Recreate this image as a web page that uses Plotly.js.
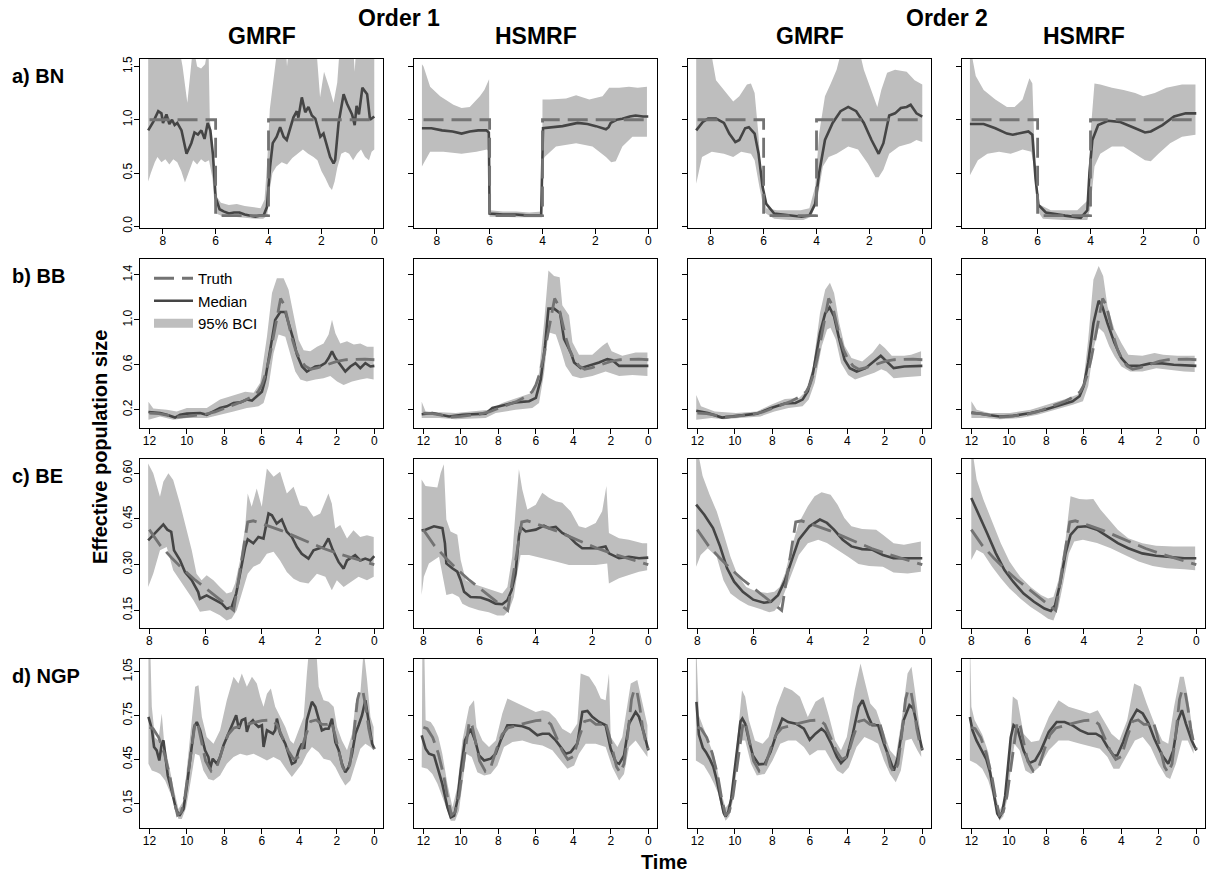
<!DOCTYPE html>
<html><head><meta charset="utf-8">
<script src="https://cdn.plot.ly/plotly-3.0.1.min.js"></script>
<style>html,body{margin:0;padding:0;background:#fff}#chart{width:1210px;height:872px}</style>
</head><body><div id="chart"></div>
<script>
// ---------- labels ----------
const ROW_LABELS = ['a) BN','b) BB','c) BE','d) NGP'];
const COL_LABELS = ['GMRF','HSMRF','GMRF','HSMRF'];
const GROUP_LABELS = ['Order 1','Order 2'];
const Y_TITLE = 'Effective population size';
const X_TITLE = 'Time';
const LEGEND_NAMES = ['Truth','Median','95% BCI'];

// ---------- truths [time, Ne] ----------
const bnTruth = [[8.5,1],[6,1],[6,0.1],[4,0.1],[4,1],[0,1]];
const bbTruth = [[12,0.17],[11.5,0.165],[11,0.15],[10.5,0.135],[10,0.14],[9.5,0.15],[9,0.16],[8.5,0.18],[8,0.21],[7.5,0.24],[7,0.275],[6.5,0.32],[6.2,0.36],[6.0,0.42],[5.8,0.52],[5.6,0.66],[5.4,0.84],[5.2,1.04],[5.0,1.19],[4.8,1.13],[4.6,0.98],[4.4,0.84],[4.2,0.73],[4.0,0.66],[3.7,0.59],[3.4,0.56],[3.0,0.575],[2.5,0.605],[2.0,0.63],[1.5,0.645],[1.0,0.65],[0.5,0.65],[0,0.645]];
const beTruth = [[8.0,0.415],[7.6,0.362],[7.2,0.322],[6.8,0.285],[6.4,0.252],[6.0,0.223],[5.6,0.196],[5.2,0.167],[5.0,0.15],[4.5,0.44],[4.3,0.444],[3.8,0.428],[3.3,0.412],[2.8,0.392],[2.3,0.372],[1.8,0.353],[1.3,0.337],[0.8,0.322],[0.4,0.31],[0,0.30]];
const ngpTruth = [[12.0,0.67],[11.8,0.66],[11.5,0.6],[11.2,0.49],[10.9,0.33],[10.7,0.18],[10.5,0.07],[10.3,0.09],[10.1,0.2],[9.9,0.4],[9.7,0.6],[9.55,0.71],[9.4,0.68],[9.2,0.56],[9.0,0.44],[8.7,0.37],[8.4,0.40],[8.1,0.52],[7.8,0.62],[7.5,0.665],[7.0,0.685],[6.5,0.7],[6.0,0.715],[5.5,0.72],[5.2,0.69],[4.9,0.60],[4.6,0.51],[4.3,0.45],[4.0,0.47],[3.7,0.6],[3.4,0.71],[3.1,0.72],[2.8,0.69],[2.5,0.69],[2.3,0.71],[2.1,0.62],[1.9,0.5],[1.7,0.4],[1.5,0.36],[1.3,0.42],[1.1,0.62],[0.9,0.86],[0.75,0.93],[0.6,0.91],[0.45,0.8],[0.3,0.66],[0.15,0.57],[0,0.52]];

// ---------- BN ----------
const bnO1G_med = [[8.55,0.90],[8.36,0.98],[8.17,1.08],[8.05,1.06],[7.99,0.97],[7.86,1.05],[7.75,0.96],[7.65,1.0],[7.55,0.95],[7.45,0.97],[7.29,0.90],[7.1,0.68],[6.92,0.78],[6.8,0.88],[6.67,0.86],[6.54,0.90],[6.42,0.82],[6.3,0.97],[6.2,0.90],[6.1,0.67],[6.0,0.27],[5.85,0.16],[5.7,0.14],[5.5,0.12],[5.3,0.13],[5.1,0.13],[4.9,0.11],[4.7,0.10],[4.5,0.09],[4.35,0.10],[4.19,0.10],[4.06,0.18],[3.94,0.56],[3.84,0.78],[3.69,0.84],[3.56,0.93],[3.43,0.84],[3.31,0.81],[3.18,0.93],[3.06,1.02],[2.93,1.08],[2.87,1.02],[2.74,1.21],[2.61,1.07],[2.49,1.12],[2.36,1.04],[2.23,1.01],[2.04,0.84],[1.92,0.87],[1.79,0.75],[1.67,0.65],[1.54,0.59],[1.48,0.62],[1.35,0.97],[1.16,1.24],[1.03,1.15],[0.91,1.08],[0.84,1.05],[0.74,0.95],[0.67,1.13],[0.58,1.05],[0.45,1.30],[0.27,1.24],[0.16,1.0],[0.0,1.03]];
const bnO1G_up = [[8.55,1.7],[7.4,1.7],[7.25,1.5],[7.07,1.16],[6.95,1.45],[6.85,1.7],[6.7,1.5],[6.55,1.48],[6.4,1.52],[6.3,1.7],[6.27,1.7],[6.22,1.0],[6.1,0.75],[6.02,0.3],[5.8,0.22],[5.5,0.20],[5.2,0.21],[4.9,0.19],[4.6,0.18],[4.3,0.17],[4.15,0.25],[4.05,0.6],[3.95,1.1],[3.85,1.3],[3.75,1.55],[3.65,1.7],[3.35,1.7],[3.3,1.5],[3.22,1.7],[2.2,1.7],[2.05,1.21],[1.9,1.45],[1.7,1.3],[1.54,1.16],[1.4,1.35],[1.3,1.7],[0.8,1.7],[0.74,1.45],[0.68,1.7],[0.0,1.7]];
const bnO1G_lo = [[8.55,0.42],[8.45,0.5],[8.3,0.6],[8.2,0.65],[8.05,0.6],[7.9,0.63],[7.75,0.58],[7.6,0.63],[7.45,0.6],[7.3,0.52],[7.16,0.41],[7.0,0.52],[6.85,0.62],[6.7,0.58],[6.55,0.63],[6.4,0.6],[6.25,0.62],[6.12,0.45],[6.04,0.2],[5.98,0.12],[5.7,0.09],[5.3,0.09],[4.9,0.08],[4.5,0.07],[4.2,0.07],[4.05,0.1],[3.95,0.35],[3.85,0.5],[3.7,0.56],[3.5,0.6],[3.3,0.58],[3.1,0.64],[2.9,0.68],[2.7,0.72],[2.5,0.68],[2.3,0.65],[2.15,0.62],[2.0,0.52],[1.85,0.45],[1.7,0.37],[1.6,0.34],[1.5,0.42],[1.4,0.55],[1.25,0.68],[1.1,0.7],[0.95,0.68],[0.8,0.62],[0.65,0.68],[0.5,0.72],[0.35,0.65],[0.2,0.62],[0.1,0.7],[0.0,0.72]];

const bnO1H_med = [[8.56,0.92],[8.2,0.92],[7.8,0.9],[7.4,0.89],[7.06,0.87],[6.75,0.89],[6.43,0.90],[6.12,0.90],[6.03,0.88],[6.0,0.12],[5.5,0.11],[5.0,0.11],[4.5,0.10],[4.05,0.10],[3.98,0.92],[3.6,0.93],[3.24,0.94],[2.67,0.97],[2.3,0.96],[1.98,0.94],[1.6,0.91],[1.5,0.93],[1.42,0.97],[1.2,1.0],[0.98,1.01],[0.7,1.03],[0.48,1.04],[0.2,1.03],[0.0,1.03]];
const bnO1H_up = [[8.56,1.52],[8.5,1.50],[8.25,1.31],[7.87,1.22],[7.37,1.14],[7.06,1.11],[6.75,1.12],[6.5,1.18],[6.37,1.22],[6.2,1.28],[6.08,1.36],[6.02,1.38],[6.0,0.15],[5.5,0.14],[5.0,0.14],[4.5,0.13],[4.02,0.14],[4.0,1.19],[3.74,1.19],[3.11,1.20],[2.73,1.23],[2.23,1.19],[1.73,1.22],[1.48,1.30],[1.1,1.30],[0.73,1.31],[0.4,1.3],[0.05,1.31]];
const bnO1H_lo = [[8.56,0.56],[8.5,0.59],[8.25,0.70],[7.75,0.70],[7.06,0.68],[6.5,0.70],[6.1,0.72],[6.02,0.70],[6.0,0.09],[5.0,0.085],[4.02,0.085],[4.0,0.6],[3.92,0.65],[3.49,0.75],[2.73,0.78],[2.11,0.75],[1.6,0.65],[1.4,0.6],[1.23,0.61],[0.98,0.75],[0.6,0.84],[0.05,0.84]];

const bnO2G_med = [[8.55,0.90],[8.3,0.98],[8.1,1.01],[7.8,1.01],[7.5,0.97],[7.3,0.87],[7.07,0.79],[6.92,0.81],[6.7,0.92],[6.56,0.93],[6.34,0.87],[6.19,0.68],[6.04,0.37],[5.9,0.21],[5.6,0.12],[5.0,0.10],[4.57,0.09],[4.27,0.10],[4.05,0.21],[3.9,0.50],[3.68,0.81],[3.39,0.97],[3.09,1.08],[2.8,1.12],[2.5,1.08],[2.21,0.97],[1.92,0.81],[1.65,0.68],[1.47,0.78],[1.25,1.04],[1.03,1.06],[0.81,1.11],[0.59,1.12],[0.44,1.14],[0.22,1.06],[0.0,1.03]];
const bnO2G_up = [[8.55,1.7],[8.0,1.65],[7.8,1.37],[7.5,1.28],[7.15,1.17],[6.92,1.22],[6.63,1.33],[6.48,1.34],[6.34,1.25],[6.2,0.87],[6.04,0.31],[5.9,0.17],[5.5,0.15],[5.0,0.15],[4.6,0.15],[4.27,0.17],[4.05,0.37],[3.9,0.87],[3.68,1.22],[3.46,1.34],[3.24,1.47],[3.0,1.7],[2.43,1.7],[2.21,1.47],[1.92,1.28],[1.7,1.12],[1.55,1.28],[1.33,1.44],[1.03,1.47],[0.59,1.45],[0.29,1.37],[0.07,1.34],[0.0,1.33]];
const bnO2G_lo = [[8.55,0.40],[8.33,0.65],[7.96,0.70],[7.5,0.68],[7.15,0.65],[6.85,0.70],[6.48,0.68],[6.34,0.62],[6.16,0.37],[5.97,0.13],[5.6,0.07],[5.0,0.06],[4.5,0.06],[4.2,0.09],[3.98,0.24],[3.76,0.56],[3.54,0.65],[3.24,0.68],[2.8,0.75],[2.43,0.72],[2.06,0.59],[1.77,0.46],[1.65,0.46],[1.47,0.53],[1.25,0.68],[0.88,0.75],[0.44,0.78],[0.22,0.81],[0.0,0.79]];

const bnO2H_med = [[8.56,0.96],[8.04,0.96],[7.6,0.92],[7.16,0.87],[6.94,0.86],[6.57,0.88],[6.35,0.89],[6.2,0.86],[6.08,0.45],[5.97,0.20],[5.69,0.13],[4.96,0.10],[4.37,0.08],[4.12,0.15],[4.04,0.50],[3.93,0.81],[3.71,0.95],[3.34,0.99],[2.9,0.98],[2.31,0.92],[1.94,0.88],[1.72,0.89],[1.28,0.95],[0.84,1.03],[0.4,1.06],[0.0,1.06]];
const bnO2H_up = [[8.56,1.7],[8.45,1.55],[8.34,1.41],[8.04,1.28],[7.6,1.19],[7.16,1.12],[6.87,1.12],[6.57,1.19],[6.43,1.30],[6.31,1.39],[6.2,1.34],[6.1,0.6],[5.97,0.21],[5.5,0.15],[4.5,0.15],[4.12,0.24],[4.0,0.87],[3.85,1.34],[3.63,1.33],[3.19,1.30],[2.75,1.28],[2.31,1.25],[2.01,1.22],[1.57,1.25],[1.13,1.30],[0.54,1.33],[0.03,1.33]];
const bnO2H_lo = [[8.56,0.48],[8.26,0.62],[7.9,0.68],[7.46,0.70],[7.02,0.68],[6.57,0.72],[6.24,0.70],[6.1,0.5],[6.02,0.15],[5.8,0.07],[5.0,0.06],[4.12,0.06],[4.0,0.18],[3.85,0.56],[3.63,0.68],[3.19,0.75],[2.75,0.75],[2.31,0.68],[1.94,0.62],[1.72,0.61],[1.43,0.68],[0.99,0.78],[0.54,0.84],[0.03,0.86]];

// ---------- BB ----------
const bbO1G_med = [[12.05,0.18],[11.43,0.17],[11.07,0.155],[10.63,0.13],[10.36,0.155],[10.0,0.165],[9.29,0.17],[8.94,0.155],[8.58,0.185],[8.23,0.215],[7.87,0.23],[7.51,0.26],[7.16,0.265],[6.8,0.29],[6.53,0.28],[6.27,0.32],[6.0,0.36],[5.82,0.47],[5.55,0.73],[5.29,1.0],[5.02,1.07],[4.75,1.07],[4.52,0.94],[4.31,0.82],[4.13,0.69],[3.86,0.585],[3.6,0.54],[3.33,0.57],[3.15,0.585],[2.88,0.59],[2.62,0.615],[2.44,0.66],[2.26,0.72],[2.08,0.66],[1.82,0.60],[1.55,0.54],[1.28,0.585],[1.01,0.615],[0.75,0.57],[0.48,0.615],[0.21,0.585],[0.0,0.59]];
const bbO1G_up = [[12.05,0.27],[11.79,0.21],[11.07,0.20],[10.54,0.185],[10.0,0.215],[8.94,0.215],[8.23,0.29],[7.51,0.33],[6.89,0.36],[6.44,0.35],[6.09,0.44],[5.73,0.85],[5.46,1.24],[5.2,1.37],[4.84,1.37],[4.58,1.27],[4.31,1.03],[4.04,0.82],[3.77,0.73],[3.42,0.72],[3.06,0.76],[2.71,0.79],[2.44,0.87],[2.26,1.0],[2.08,0.88],[1.82,0.79],[1.46,0.81],[1.1,0.78],[0.75,0.79],[0.39,0.76],[0.04,0.76]];
const bbO1G_lo = [[12.05,0.11],[11.43,0.14],[10.72,0.11],[10.0,0.125],[8.94,0.125],[8.23,0.155],[7.51,0.185],[6.8,0.215],[6.18,0.23],[5.91,0.26],[5.64,0.41],[5.38,0.70],[5.11,0.87],[4.75,0.85],[4.49,0.69],[4.22,0.54],[3.95,0.47],[3.6,0.45],[3.15,0.47],[2.71,0.48],[2.35,0.50],[1.99,0.45],[1.64,0.42],[1.19,0.45],[0.75,0.47],[0.39,0.48],[0.04,0.47]];

const bbO1H_med = [[12.09,0.16],[11.52,0.17],[10.63,0.14],[9.92,0.155],[8.68,0.165],[8.32,0.215],[7.61,0.245],[7.08,0.265],[6.36,0.275],[6.0,0.305],[5.74,0.47],[5.51,0.77],[5.33,1.10],[5.03,1.10],[4.71,1.06],[4.5,0.83],[4.14,0.71],[3.96,0.62],[3.61,0.57],[3.16,0.59],[2.63,0.62],[2.19,0.65],[1.92,0.64],[1.56,0.59],[1.21,0.59],[0.68,0.59],[0.0,0.59]];
const bbO1H_up = [[12.09,0.27],[11.88,0.185],[10.28,0.17],[8.5,0.20],[7.79,0.26],[6.72,0.32],[6.19,0.35],[5.83,0.53],[5.56,0.98],[5.33,1.44],[5.03,1.39],[4.73,1.38],[4.59,1.13],[4.23,1.04],[4.05,0.80],[3.7,0.69],[2.99,0.69],[2.45,0.77],[2.19,0.80],[1.96,0.72],[1.39,0.68],[0.68,0.71],[0.05,0.71]];
const bbO1H_lo = [[12.09,0.125],[11.16,0.125],[10.28,0.115],[8.68,0.125],[8.14,0.17],[7.08,0.20],[6.19,0.215],[5.83,0.26],[5.56,0.53],[5.33,0.89],[4.94,0.87],[4.68,0.74],[4.41,0.59],[4.05,0.50],[3.61,0.48],[2.99,0.50],[2.28,0.54],[2.1,0.53],[1.56,0.50],[0.85,0.51],[0.05,0.50]];

const bbO2G_med = [[12.06,0.19],[11.44,0.17],[10.69,0.13],[9.94,0.145],[8.82,0.165],[8.07,0.215],[7.33,0.255],[6.77,0.26],[6.39,0.29],[6.11,0.365],[5.83,0.53],[5.46,0.885],[5.18,1.06],[4.95,1.11],[4.71,1.03],[4.43,0.825],[4.15,0.645],[3.87,0.57],[3.5,0.54],[3.03,0.57],[2.65,0.62],[2.22,0.68],[1.91,0.63],[1.53,0.57],[0.97,0.585],[0.0,0.59]];
const bbO2G_up = [[12.06,0.33],[11.81,0.23],[11.07,0.185],[9.94,0.17],[8.82,0.185],[8.07,0.245],[7.33,0.295],[6.58,0.305],[6.21,0.365],[5.83,0.59],[5.46,1.06],[5.18,1.27],[4.93,1.33],[4.71,1.24],[4.43,0.97],[4.15,0.77],[3.78,0.66],[3.21,0.63],[2.65,0.71],[2.28,0.79],[2.0,0.75],[1.63,0.68],[0.97,0.68],[0.6,0.69],[0.07,0.72]];
const bbO2G_lo = [[12.06,0.11],[11.25,0.125],[10.6,0.115],[9.76,0.125],[8.64,0.14],[7.89,0.185],[7.14,0.215],[6.39,0.23],[6.06,0.29],[5.74,0.44],[5.36,0.77],[5.08,0.915],[4.9,0.93],[4.62,0.825],[4.34,0.615],[3.96,0.51],[3.59,0.47],[3.03,0.50],[2.56,0.53],[2.19,0.56],[1.91,0.54],[1.53,0.48],[0.97,0.49],[0.07,0.50]];

const bbO2H_med = [[12.0,0.175],[11.26,0.155],[10.51,0.14],[9.77,0.145],[8.84,0.17],[8.09,0.20],[7.16,0.25],[6.6,0.275],[6.23,0.32],[6.01,0.41],[5.77,0.62],[5.49,0.97],[5.21,1.17],[5.02,1.12],[4.74,0.97],[4.37,0.795],[4.0,0.66],[3.63,0.59],[3.07,0.59],[2.51,0.61],[1.95,0.615],[1.21,0.60],[0.0,0.59]];
const bbO2H_up = [[12.0,0.275],[11.72,0.20],[11.07,0.17],[9.95,0.17],[8.84,0.20],[7.91,0.245],[6.98,0.295],[6.33,0.335],[6.05,0.41],[5.77,0.825],[5.49,1.36],[5.21,1.48],[4.97,1.39],[4.74,1.12],[4.37,0.915],[4.0,0.795],[3.63,0.69],[2.88,0.68],[2.23,0.705],[1.77,0.69],[1.02,0.68],[0.09,0.68]];
const bbO2H_lo = [[12.0,0.125],[11.26,0.125],[10.51,0.115],[9.4,0.125],[8.47,0.155],[7.53,0.20],[6.6,0.245],[6.05,0.275],[5.77,0.41],[5.49,0.735],[5.21,0.93],[4.93,0.885],[4.65,0.765],[4.37,0.675],[4.0,0.585],[3.53,0.54],[2.88,0.54],[2.14,0.57],[1.4,0.555],[0.65,0.54],[0.09,0.535]];

// ---------- BE ----------
const beO1G_med = [[8.04,0.38],[7.74,0.408],[7.5,0.432],[7.36,0.415],[7.22,0.408],[7.12,0.347],[6.91,0.315],[6.73,0.276],[6.49,0.249],[6.26,0.21],[6.2,0.188],[5.96,0.199],[5.72,0.188],[5.42,0.172],[5.25,0.155],[5.07,0.161],[4.91,0.205],[4.77,0.27],[4.59,0.358],[4.5,0.383],[4.3,0.37],[4.12,0.391],[3.94,0.386],[3.76,0.468],[3.64,0.462],[3.47,0.435],[3.29,0.448],[3.11,0.408],[2.93,0.391],[2.75,0.358],[2.58,0.336],[2.34,0.32],[2.16,0.347],[1.98,0.353],[1.8,0.358],[1.63,0.386],[1.47,0.347],[1.27,0.309],[1.09,0.287],[0.97,0.314],[0.8,0.325],[0.68,0.331],[0.5,0.314],[0.32,0.32],[0.14,0.314],[0.0,0.328]];
const beO1G_up = [[8.04,0.632],[7.86,0.60],[7.62,0.523],[7.5,0.572],[7.32,0.60],[7.15,0.578],[6.91,0.501],[6.67,0.413],[6.49,0.347],[6.32,0.27],[6.14,0.249],[5.96,0.265],[5.72,0.249],[5.49,0.227],[5.25,0.205],[5.07,0.21],[4.95,0.238],[4.77,0.315],[4.59,0.424],[4.5,0.534],[4.36,0.49],[4.18,0.55],[4.0,0.49],[3.82,0.616],[3.58,0.589],[3.35,0.605],[3.11,0.534],[2.87,0.556],[2.64,0.495],[2.4,0.49],[2.16,0.457],[1.92,0.468],[1.63,0.534],[1.51,0.501],[1.39,0.419],[1.21,0.43],[0.97,0.386],[0.74,0.413],[0.5,0.391],[0.26,0.397],[0.02,0.391]];
const beO1G_lo = [[8.04,0.227],[7.86,0.27],[7.62,0.347],[7.38,0.358],[7.15,0.282],[6.91,0.249],[6.67,0.216],[6.43,0.183],[6.2,0.145],[5.84,0.15],[5.49,0.134],[5.25,0.117],[5.07,0.123],[4.89,0.15],[4.71,0.205],[4.5,0.27],[4.3,0.293],[4.06,0.304],[3.82,0.336],[3.58,0.342],[3.35,0.314],[3.11,0.276],[2.87,0.254],[2.64,0.243],[2.34,0.238],[2.04,0.27],[1.74,0.26],[1.51,0.216],[1.33,0.249],[1.09,0.227],[0.85,0.243],[0.56,0.26],[0.26,0.249],[0.02,0.26]];

const beO1H_med = [[8.06,0.412],[7.92,0.415],[7.62,0.426],[7.32,0.42],[7.23,0.37],[7.18,0.304],[6.97,0.288],[6.79,0.277],[6.67,0.249],[6.55,0.211],[6.32,0.194],[5.96,0.192],[5.67,0.183],[5.43,0.172],[5.19,0.17],[5.01,0.183],[4.86,0.216],[4.72,0.271],[4.6,0.393],[4.54,0.424],[4.36,0.409],[4.0,0.415],[3.71,0.428],[3.53,0.42],[3.29,0.424],[3.06,0.404],[2.82,0.393],[2.58,0.37],[2.35,0.354],[2.11,0.354],[1.81,0.354],[1.52,0.36],[1.4,0.337],[1.04,0.321],[0.69,0.326],[0.33,0.321],[0.0,0.323]];
const beO1H_up = [[8.06,0.58],[7.92,0.558],[7.5,0.553],[7.38,0.602],[7.27,0.63],[7.18,0.448],[7.03,0.409],[6.79,0.398],[6.67,0.315],[6.49,0.249],[6.26,0.238],[5.9,0.227],[5.55,0.216],[5.19,0.205],[5.01,0.227],[4.84,0.326],[4.72,0.475],[4.6,0.613],[4.48,0.547],[4.3,0.481],[4.0,0.497],[3.77,0.536],[3.53,0.52],[3.29,0.508],[3.06,0.503],[2.76,0.475],[2.47,0.426],[2.23,0.42],[1.87,0.437],[1.64,0.475],[1.49,0.558],[1.4,0.404],[1.04,0.387],[0.69,0.382],[0.21,0.37],[0.04,0.37]];
const beO1H_lo = [[8.06,0.2],[7.98,0.26],[7.8,0.304],[7.44,0.326],[7.18,0.2],[6.97,0.205],[6.73,0.194],[6.61,0.172],[6.38,0.161],[6.02,0.15],[5.67,0.144],[5.37,0.133],[5.13,0.133],[4.95,0.15],[4.78,0.194],[4.66,0.271],[4.54,0.332],[4.24,0.332],[3.77,0.321],[3.29,0.31],[2.82,0.299],[2.35,0.299],[1.87,0.299],[1.46,0.304],[1.4,0.238],[1.04,0.255],[0.69,0.266],[0.33,0.277],[0.04,0.282]];

const beO2G_med = [[8.04,0.497],[7.75,0.464],[7.44,0.42],[7.19,0.36],[6.94,0.288],[6.69,0.244],[6.38,0.211],[6.01,0.185],[5.63,0.175],[5.38,0.178],[5.13,0.2],[4.88,0.249],[4.64,0.315],[4.39,0.382],[4.01,0.426],[3.64,0.448],[3.39,0.437],[3.14,0.415],[2.83,0.382],[2.52,0.36],[2.14,0.351],[1.77,0.349],[1.4,0.332],[1.02,0.321],[0.52,0.321],[0.0,0.321]];
const beO2G_up = [[8.04,0.7],[7.81,0.591],[7.56,0.53],[7.31,0.475],[7.07,0.404],[6.82,0.326],[6.57,0.266],[6.26,0.227],[5.88,0.211],[5.51,0.207],[5.26,0.211],[5.07,0.227],[4.88,0.271],[4.64,0.36],[4.39,0.437],[4.07,0.492],[3.83,0.525],[3.58,0.538],[3.26,0.53],[3.01,0.497],[2.77,0.453],[2.52,0.426],[2.14,0.417],[1.64,0.415],[1.4,0.398],[1.02,0.37],[0.65,0.365],[0.05,0.376]];
const beO2G_lo = [[8.04,0.293],[7.88,0.332],[7.63,0.354],[7.31,0.326],[7.07,0.249],[6.82,0.205],[6.5,0.183],[6.19,0.167],[5.82,0.156],[5.44,0.144],[5.26,0.148],[5.07,0.167],[4.88,0.211],[4.64,0.271],[4.39,0.332],[4.07,0.37],[3.7,0.382],[3.39,0.371],[3.01,0.349],[2.64,0.326],[2.27,0.302],[1.89,0.296],[1.4,0.293],[1.02,0.274],[0.52,0.271],[0.05,0.277]];

const beO2H_med = [[8.0,0.519],[7.75,0.47],[7.44,0.404],[7.13,0.338],[6.82,0.282],[6.51,0.244],[6.14,0.205],[5.77,0.178],[5.4,0.156],[5.17,0.148],[5.02,0.167],[4.84,0.238],[4.65,0.337],[4.47,0.398],[4.22,0.424],[3.91,0.426],[3.53,0.415],[3.16,0.393],[2.79,0.371],[2.42,0.354],[1.92,0.337],[1.43,0.329],[0.93,0.324],[0.43,0.321],[0.0,0.321]];
const beO2H_up = [[8.0,0.7],[7.81,0.58],[7.57,0.514],[7.26,0.442],[6.95,0.37],[6.64,0.31],[6.26,0.26],[5.89,0.227],[5.52,0.2],[5.27,0.189],[5.08,0.194],[4.9,0.249],[4.65,0.382],[4.47,0.525],[4.16,0.516],[3.91,0.514],[3.66,0.516],[3.41,0.481],[3.1,0.448],[2.79,0.415],[2.42,0.387],[1.92,0.37],[1.43,0.362],[0.81,0.36],[0.04,0.36]];
const beO2H_lo = [[8.0,0.315],[7.81,0.349],[7.57,0.337],[7.26,0.293],[6.95,0.255],[6.64,0.222],[6.26,0.189],[5.89,0.161],[5.52,0.139],[5.27,0.122],[5.08,0.117],[4.9,0.161],[4.71,0.249],[4.53,0.337],[4.34,0.376],[4.03,0.382],[3.53,0.371],[3.04,0.354],[2.54,0.332],[2.05,0.31],[1.55,0.296],[1.05,0.288],[0.43,0.285],[0.04,0.282]];

// ---------- NGP ----------
const ngpO1G_med = [[12.05,0.741],[11.87,0.66],[11.75,0.535],[11.61,0.512],[11.47,0.443],[11.34,0.558],[11.25,0.58],[11.16,0.5],[11.02,0.34],[10.81,0.237],[10.58,0.111],[10.4,0.065],[10.18,0.111],[10.01,0.26],[9.79,0.489],[9.61,0.672],[9.47,0.706],[9.29,0.649],[9.03,0.512],[8.85,0.466],[8.76,0.386],[8.62,0.455],[8.4,0.42],[8.23,0.466],[8.05,0.546],[7.87,0.603],[7.69,0.66],[7.51,0.706],[7.37,0.752],[7.23,0.66],[7.07,0.718],[6.89,0.729],[6.8,0.638],[6.66,0.695],[6.48,0.718],[6.36,0.695],[6.18,0.672],[6.0,0.684],[5.91,0.535],[5.73,0.649],[5.55,0.638],[5.41,0.626],[5.29,0.649],[5.2,0.729],[5.02,0.626],[4.75,0.558],[4.58,0.489],[4.4,0.42],[4.22,0.432],[4.04,0.512],[3.86,0.558],[3.74,0.523],[3.6,0.718],[3.33,0.844],[3.15,0.81],[2.97,0.718],[2.8,0.649],[2.62,0.66],[2.44,0.66],[2.26,0.729],[2.08,0.569],[1.9,0.512],[1.73,0.42],[1.55,0.363],[1.37,0.397],[1.19,0.489],[1.01,0.626],[0.84,0.684],[0.66,0.752],[0.48,0.855],[0.3,0.695],[0.12,0.558],[0.0,0.523]];
const ngpO1G_up = [[12.05,1.3],[11.95,1.2],[11.87,0.81],[11.7,0.6],[11.52,0.58],[11.34,0.764],[11.22,0.58],[10.98,0.42],[10.72,0.26],[10.45,0.111],[10.18,0.168],[9.92,0.489],[9.74,0.741],[9.56,0.947],[9.38,0.958],[9.2,0.741],[8.94,0.603],[8.58,0.558],[8.23,0.649],[7.87,0.855],[7.51,1.016],[7.25,0.97],[7.07,1.038],[6.8,0.947],[6.53,1.016],[6.27,0.97],[6.09,0.878],[5.91,0.81],[5.73,0.9],[5.52,0.935],[5.29,0.81],[5.02,0.741],[4.75,0.672],[4.49,0.58],[4.31,0.558],[4.04,0.649],[3.77,0.741],[3.6,1.038],[3.42,1.3],[3.15,1.3],[2.97,0.947],[2.71,0.855],[2.44,0.844],[2.17,0.81],[1.99,0.672],[1.73,0.58],[1.46,0.512],[1.19,0.626],[1.01,0.832],[0.75,0.9],[0.57,1.2],[0.39,0.993],[0.21,0.741],[0.04,0.672]];
const ngpO1G_lo = [[12.05,0.42],[11.87,0.374],[11.61,0.363],[11.43,0.351],[11.16,0.306],[10.98,0.248],[10.72,0.168],[10.45,0.042],[10.27,0.042],[10.04,0.122],[9.79,0.306],[9.56,0.489],[9.33,0.477],[9.12,0.374],[8.85,0.317],[8.58,0.306],[8.23,0.34],[7.87,0.42],[7.51,0.466],[7.16,0.489],[6.8,0.477],[6.44,0.489],[6.09,0.466],[5.73,0.443],[5.38,0.466],[5.02,0.443],[4.66,0.374],[4.4,0.329],[4.13,0.374],[3.86,0.42],[3.6,0.489],[3.33,0.535],[2.97,0.5],[2.71,0.455],[2.35,0.443],[2.08,0.397],[1.82,0.329],[1.55,0.271],[1.28,0.306],[1.01,0.42],[0.75,0.523],[0.48,0.558],[0.21,0.535],[0.04,0.512]];

const ngpO1H_med = [[12.09,0.615],[11.88,0.523],[11.7,0.489],[11.43,0.477],[11.25,0.397],[10.99,0.283],[10.72,0.123],[10.54,0.054],[10.36,0.065],[10.19,0.168],[10.01,0.374],[9.78,0.58],[9.48,0.66],[9.24,0.58],[9.03,0.477],[8.76,0.443],[8.41,0.455],[8.14,0.489],[7.88,0.58],[7.52,0.684],[7.16,0.684],[6.72,0.677],[6.36,0.66],[5.92,0.615],[5.65,0.626],[5.3,0.626],[4.94,0.58],[4.68,0.535],[4.41,0.489],[4.14,0.5],[3.79,0.558],[3.52,0.775],[3.25,0.782],[2.99,0.741],[2.63,0.706],[2.28,0.684],[2.01,0.523],[1.74,0.432],[1.56,0.42],[1.3,0.477],[1.03,0.695],[0.68,0.775],[0.5,0.741],[0.23,0.626],[0.0,0.512]];
const ngpO1H_up = [[12.05,1.3],[11.95,1.2],[11.88,0.718],[11.61,0.706],[11.43,0.672],[11.2,0.603],[10.99,0.489],[10.72,0.283],[10.45,0.123],[10.19,0.26],[9.92,0.58],[9.56,0.81],[9.3,0.855],[9.17,0.672],[8.85,0.58],[8.5,0.535],[8.14,0.58],[7.79,0.764],[7.52,0.867],[7.16,0.844],[6.9,0.832],[6.54,0.81],[6.01,0.775],[5.65,0.787],[5.3,0.775],[4.94,0.73],[4.59,0.66],[4.14,0.626],[3.79,0.695],[3.61,1.038],[3.16,1.016],[2.81,0.947],[2.54,0.867],[2.28,0.855],[2.1,1.038],[2.01,0.603],[1.65,0.535],[1.39,0.603],[1.12,0.832],[0.94,0.97],[0.59,0.993],[0.32,0.832],[0.05,0.684]];
const ngpO1H_lo = [[12.09,0.397],[11.79,0.386],[11.52,0.351],[11.25,0.283],[10.99,0.191],[10.72,0.1],[10.54,0.031],[10.31,0.031],[10.1,0.1],[9.88,0.306],[9.71,0.489],[9.42,0.466],[9.12,0.363],[8.76,0.34],[8.41,0.351],[8.05,0.409],[7.7,0.535],[7.25,0.569],[6.72,0.58],[6.19,0.558],[5.65,0.546],[5.12,0.512],[4.68,0.443],[4.32,0.386],[3.96,0.409],[3.7,0.489],[3.34,0.558],[2.81,0.558],[2.28,0.535],[1.92,0.397],[1.56,0.306],[1.3,0.351],[1.03,0.535],[0.68,0.58],[0.32,0.512],[0.05,0.466]];

const ngpO2G_med = [[12.05,0.844],[11.92,0.62],[11.71,0.53],[11.54,0.5],[11.33,0.45],[11.15,0.4],[10.95,0.3],[10.75,0.17],[10.6,0.085],[10.5,0.06],[10.35,0.09],[10.2,0.18],[10.05,0.35],[9.87,0.55],[9.7,0.71],[9.6,0.73],[9.45,0.695],[9.25,0.58],[9.04,0.477],[8.72,0.416],[8.41,0.42],[8.1,0.5],[7.78,0.626],[7.47,0.729],[7.16,0.706],[6.74,0.695],[6.32,0.66],[6.01,0.585],[5.7,0.626],[5.38,0.66],[5.18,0.638],[4.86,0.558],[4.55,0.466],[4.34,0.425],[4.03,0.466],[3.71,0.626],[3.4,0.81],[3.19,0.855],[2.88,0.741],[2.67,0.684],[2.36,0.684],[2.05,0.558],[1.73,0.443],[1.52,0.374],[1.31,0.466],[1.0,0.718],[0.69,0.821],[0.48,0.798],[0.27,0.672],[0.0,0.512]];
const ngpO2G_up = [[12.08,1.3],[12.0,1.0],[11.92,0.75],[11.65,0.66],[11.33,0.55],[11.1,0.47],[10.9,0.36],[10.7,0.21],[10.5,0.12],[10.3,0.15],[10.1,0.28],[9.91,0.52],[9.62,0.924],[9.45,0.878],[9.25,0.718],[8.93,0.58],[8.52,0.558],[8.2,0.603],[7.78,0.81],[7.37,0.947],[6.95,0.924],[6.53,0.878],[6.11,0.741],[5.7,0.844],[5.28,0.878],[4.97,0.741],[4.65,0.58],[4.34,0.512],[4.03,0.603],[3.61,0.924],[3.3,1.107],[3.09,0.993],[2.78,0.832],[2.46,0.787],[2.15,0.672],[1.73,0.512],[1.42,0.466],[1.11,0.718],[0.79,1.038],[0.58,1.084],[0.38,0.901],[0.1,0.626]];
const ngpO2G_lo = [[12.08,0.443],[11.92,0.432],[11.65,0.409],[11.33,0.34],[11.1,0.28],[10.9,0.22],[10.7,0.11],[10.5,0.03],[10.3,0.06],[10.1,0.17],[9.9,0.38],[9.7,0.58],[9.45,0.58],[9.14,0.42],[8.83,0.34],[8.41,0.351],[7.99,0.443],[7.58,0.558],[7.16,0.58],[6.74,0.58],[6.32,0.535],[6.01,0.477],[5.59,0.512],[5.18,0.512],[4.86,0.443],[4.55,0.374],[4.24,0.351],[3.92,0.397],[3.51,0.535],[3.09,0.603],[2.67,0.58],[2.36,0.558],[2.05,0.443],[1.73,0.351],[1.42,0.294],[1.15,0.374],[0.9,0.58],[0.58,0.592],[0.27,0.512],[0.06,0.466]];

const ngpO2H_med = [[12.08,0.741],[11.94,0.649],[11.73,0.58],[11.42,0.51],[11.2,0.45],[11.0,0.36],[10.8,0.2],[10.62,0.08],[10.5,0.055],[10.35,0.09],[10.2,0.2],[10.05,0.4],[9.9,0.6],[9.75,0.684],[9.54,0.66],[9.22,0.512],[8.91,0.425],[8.6,0.443],[8.29,0.512],[7.87,0.638],[7.45,0.706],[7.03,0.706],[6.62,0.684],[6.2,0.649],[5.78,0.626],[5.36,0.626],[5.05,0.603],[4.74,0.535],[4.42,0.477],[4.22,0.477],[3.9,0.569],[3.49,0.718],[3.17,0.79],[2.86,0.764],[2.55,0.695],[2.24,0.592],[1.82,0.477],[1.5,0.42],[1.23,0.512],[0.98,0.718],[0.77,0.787],[0.56,0.695],[0.25,0.58],[0.0,0.512]];
const ngpO2H_up = [[12.08,1.3],[12.0,0.81],[11.83,0.72],[11.42,0.62],[11.1,0.5],[10.9,0.36],[10.7,0.2],[10.5,0.1],[10.3,0.15],[10.1,0.3],[9.95,0.52],[9.79,0.88],[9.54,0.855],[9.22,0.626],[8.81,0.569],[8.39,0.58],[7.87,0.741],[7.35,0.855],[6.82,0.81],[6.2,0.787],[5.68,0.764],[5.26,0.787],[4.95,0.718],[4.53,0.626],[4.11,0.58],[3.69,0.718],[3.32,0.97],[2.96,0.947],[2.65,0.832],[2.24,0.695],[1.82,0.58],[1.5,0.558],[1.19,0.81],[0.88,1.016],[0.67,1.016],[0.46,0.878],[0.15,0.603]];
const ngpO2H_lo = [[12.08,0.443],[11.73,0.42],[11.42,0.386],[11.1,0.306],[10.9,0.22],[10.7,0.11],[10.5,0.03],[10.3,0.06],[10.1,0.17],[9.9,0.38],[9.7,0.556],[9.43,0.512],[9.12,0.374],[8.81,0.351],[8.39,0.397],[7.87,0.512],[7.35,0.58],[6.82,0.58],[6.2,0.558],[5.57,0.535],[5.15,0.523],[4.74,0.466],[4.42,0.386],[4.11,0.386],[3.69,0.489],[3.28,0.58],[2.86,0.603],[2.44,0.535],[2.03,0.42],[1.61,0.329],[1.4,0.317],[1.09,0.42],[0.77,0.58],[0.46,0.58],[0.15,0.489]];

// ---------- tick values / labels ----------
const xTickVals = [[0,2,4,6,8],[0,2,4,6,8,10,12],[0,2,4,6,8],[0,2,4,6,8,10,12]];
const yTickVals = [[0,0.5,1.0,1.5],[0.2,0.6,1.0,1.4],[0.15,0.30,0.45,0.60],[0.15,0.45,0.75,1.05]];
const yTickText = [["0.0","0.5","1.0","1.5"],["0.2","0.6","1.0","1.4"],["0.15","0.30","0.45","0.60"],["0.15","0.45","0.75","1.05"]];

// ---------- tables built from the arrays ----------
const TRUTHS = [bnTruth, bbTruth, beTruth, ngpTruth];
const MEDS = [[bnO1G_med,bnO1H_med,bnO2G_med,bnO2H_med],[bbO1G_med,bbO1H_med,bbO2G_med,bbO2H_med],[beO1G_med,beO1H_med,beO2G_med,beO2H_med],[ngpO1G_med,ngpO1H_med,ngpO2G_med,ngpO2H_med]];
const UPS = [[bnO1G_up,bnO1H_up,bnO2G_up,bnO2H_up],[bbO1G_up,bbO1H_up,bbO2G_up,bbO2H_up],[beO1G_up,beO1H_up,beO2G_up,beO2H_up],[ngpO1G_up,ngpO1H_up,ngpO2G_up,ngpO2H_up]];
const LOS = [[bnO1G_lo,bnO1H_lo,bnO2G_lo,bnO2H_lo],[bbO1G_lo,bbO1H_lo,bbO2G_lo,bbO2H_lo],[beO1G_lo,beO1H_lo,beO2G_lo,beO2H_lo],[ngpO1G_lo,ngpO1H_lo,ngpO2G_lo,ngpO2H_lo]];

// ---------- geometry & style ----------
const W = 1210, H = 872;
const colLeft = [140,414,688,962], panelW = 243;
const rowTop = [59,259,459,659], panelH = 169;
const xRanges = [[8.86,-0.33],[12.5,-0.46],[8.33,-0.31],[12.5,-0.46]];
const yRanges = [[-0.016,1.57],[0.037,1.542],[0.092,0.647],[-0.019,1.137]];
const FONT = 'Liberation Sans, Arial, Helvetica, sans-serif';
const BAND = '#bebebe', MED = '#454545', TRU = '#737373';
const TRUTH_DASH = '20px,8px';

const traces = [];
const layout = {
  width: W, height: H, autosize: false,
  margin: {l:0, r:0, t:0, b:0},
  paper_bgcolor: '#fff', plot_bgcolor: '#fff',
  font: {family: FONT, color: '#000', size: 12},
  showlegend: true,
  legend: {x: 149/W, y: 1 - 262/H, xanchor: 'left', yanchor: 'top', bgcolor: 'rgba(0,0,0,0)',
           font: {size: 15, family: FONT}, itemwidth: 39, tracegroupgap: 0, traceorder: 'normal'},
  annotations: [], shapes: []
};

const xs = a => a.map(p => p[0]);
const ys = a => a.map(p => p[1]);

for (let r = 0; r < 4; r++) {
  for (let c = 0; c < 4; c++) {
    const k = r*4 + c + 1;
    const xa = 'x' + (k===1?'':k), ya = 'y' + (k===1?'':k);
    const xk = 'xaxis' + (k===1?'':k), yk = 'yaxis' + (k===1?'':k);
    layout[xk] = {
      domain: [colLeft[c]/W, (colLeft[c]+panelW)/W], anchor: ya,
      range: xRanges[r], autorange: false,
      tickmode: 'array', tickvals: xTickVals[r], ticktext: xTickVals[r].map(String),
      ticks: 'outside', ticklen: 5, tickwidth: 1, tickcolor: '#000', ticklabelstandoff: -4,
      showline: true, mirror: true, linecolor: '#000', linewidth: 1.3,
      showgrid: false, zeroline: false, tickfont: {size: 12, family: FONT},
      fixedrange: true
    };
    layout[yk] = {
      domain: [1-(rowTop[r]+panelH)/H, 1-rowTop[r]/H], anchor: xa,
      range: yRanges[r], autorange: false,
      tickmode: 'array', tickvals: yTickVals[r], ticktext: yTickText[r],
      showticklabels: c === 0, tickangle: -90,
      ticks: 'outside', ticklen: 5, tickwidth: 1, tickcolor: '#000', ticklabelstandoff: -3,
      showline: true, mirror: true, linecolor: '#000', linewidth: 1.3,
      showgrid: false, zeroline: false, tickfont: {size: 12, family: FONT},
      fixedrange: true
    };
    const up = UPS[r][c], lo = LOS[r][c];
    traces.push({
      x: xs(up).concat(xs(lo).reverse()), y: ys(up).concat(ys(lo).reverse()),
      xaxis: xa, yaxis: ya, type: 'scatter', mode: 'lines', fill: 'toself',
      fillcolor: BAND, line: {width: 0, color: BAND}, hoverinfo: 'skip', showlegend: false
    });
    traces.push({
      x: xs(MEDS[r][c]), y: ys(MEDS[r][c]), xaxis: xa, yaxis: ya, type: 'scatter', mode: 'lines',
      line: {color: MED, width: 2.6}, hoverinfo: 'skip', showlegend: false
    });
    traces.push({
      x: xs(TRUTHS[r]), y: ys(TRUTHS[r]), xaxis: xa, yaxis: ya, type: 'scatter', mode: 'lines',
      line: {color: TRU, width: 2.8, dash: TRUTH_DASH}, hoverinfo: 'skip', showlegend: false
    });
  }
}

// legend entries (drawn in the BB / order-1 GMRF panel)
traces.push({x:[null], y:[null], xaxis:'x5', yaxis:'y5', type:'scatter', mode:'lines', name: LEGEND_NAMES[0],
  line:{color: TRU, width: 2.8, dash: TRUTH_DASH}, showlegend: true, legendrank: 1});
traces.push({x:[null], y:[null], xaxis:'x5', yaxis:'y5', type:'scatter', mode:'lines', name: LEGEND_NAMES[1],
  line:{color: MED, width: 2.6}, showlegend: true, legendrank: 2});
traces.push({x:[null], y:[null], xaxis:'x5', yaxis:'y5', type:'scatter', mode:'lines', name: LEGEND_NAMES[2],
  line:{color: BAND, width: 9}, showlegend: true, legendrank: 3});

// text annotations
const ann = (text, px, py, size, extra) => Object.assign({
  text: text, xref: 'paper', yref: 'paper', x: px/W, y: 1 - py/H,
  showarrow: false, font: {size: size, family: FONT, color: '#000', weight: 700}
}, extra || {});
GROUP_LABELS.forEach((g, i) => {
  const cx = (colLeft[2*i] + colLeft[2*i+1] + panelW) / 2;
  layout.annotations.push(ann(g, cx, 18, 23, {xanchor: 'center', yanchor: 'middle'}));
});
COL_LABELS.forEach((t, c) => {
  layout.annotations.push(ann(t, colLeft[c] + panelW/2, 36, 23, {xanchor: 'center', yanchor: 'middle'}));
});
ROW_LABELS.forEach((t, r) => {
  layout.annotations.push(ann(t, 10, rowTop[r] + 17, 20, {xanchor: 'left', yanchor: 'middle'}));
});
layout.annotations.push(ann(Y_TITLE, 100, 447, 20, {xanchor: 'center', yanchor: 'middle', textangle: -90}));
layout.annotations.push(ann(X_TITLE, 664, 862, 20, {xanchor: 'center', yanchor: 'middle'}));

Plotly.newPlot('chart', traces, layout, {staticPlot: true, displayModeBar: false});
</script>
</body></html>
